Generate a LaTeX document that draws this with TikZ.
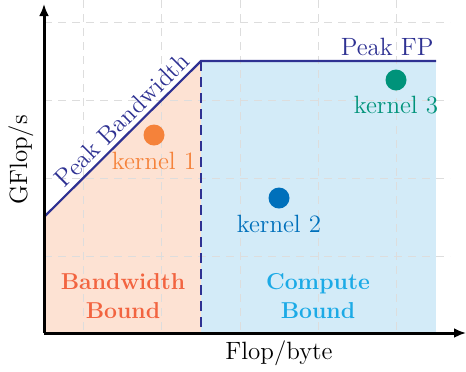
\documentclass[tikz,border=0pt]{standalone}
\usetikzlibrary{arrows.meta}
\definecolor{bwfill}{HTML}{FDE2D3}
\definecolor{cpfill}{HTML}{D3EBF8}
\definecolor{roof}{HTML}{2E3192}
\definecolor{kone}{HTML}{F5823A}
\definecolor{ktwo}{HTML}{0070BB}
\definecolor{kthree}{HTML}{00937A}
\definecolor{bwtext}{HTML}{F26440}
\definecolor{cptext}{HTML}{1CAAE6}
\definecolor{gridc}{HTML}{DDDDDD}
\tikzset{
  dot/.style={circle, inner sep=0pt, minimum size=10.5pt},
  klabel/.style={font=\fontsize{12.5}{14}\selectfont, inner sep=1pt},
  region/.style={font=\fontsize{11.5}{14.5}\selectfont\bfseries, align=center},
  axlabel/.style={font=\fontsize{12.5}{14}\selectfont},
  gridline/.style={gridc, dashed, dash pattern=on 4pt off 3pt, line width=0.5pt},
  axis/.style={line width=1.5pt, -{Latex[length=6pt,width=5pt]}},
  roofline/.style={roof, line width=1.1pt},
}
\begin{document}
\begin{tikzpicture}[x=0.5pt,y=-0.5pt]
\useasboundingbox (0,0) rectangle (466,371);
% regions
\fill[bwfill] (44,333) -- (44,217) -- (201,61) -- (201,333) -- cycle;
\fill[cpfill] (201,61) rectangle (436,333);
% grid
\foreach \x in {83,161,240,318,396}
  \draw[gridline] (\x,0) -- (\x,333);
\foreach \y in {22,100,178,256}
  \draw[gridline] (44,\y) -- (450,\y);
% roofline
\coordinate (bwstart) at (44,217);
\coordinate (ridge) at (201,61);
\coordinate (fpend) at (436,61);
\coordinate (ridgefoot) at (201,333);
\draw[roofline] (bwstart) -- (ridge) -- (fpend);
\draw[roof, line width=1.1pt, dash pattern=on 5pt off 3pt] (ridge) -- (ridgefoot);
\path (bwstart) -- (ridge) node[klabel, roof, sloped, above, inner sep=2.5pt, pos=0.56] (pbw) {Peak Bandwidth};
% axes
\coordinate (origin) at (44,333);
\coordinate (ytip) at (44,4);
\coordinate (xtip) at (466,333);
\draw[axis] (origin) -- (ytip);
\draw[axis] (origin) -- (xtip);
% labels
\node[axlabel, rotate=90] (ylab) at (21,160) {GFlop/s};
\node[axlabel] (xlab) at (279,353) {Flop/byte};
\node[klabel, roof, anchor=south east] (pfp) at (436,58) {Peak FP};
% kernels
\node[dot, fill=kone] (k1) at (154,135) {};
\node[klabel, kone] (k1l) at (154,161) {kernel 1};
\node[dot, fill=ktwo] (k2) at (279,198) {};
\node[klabel, ktwo] (k2l) at (279,224) {kernel 2};
\node[dot, fill=kthree] (k3) at (396,80) {};
\node[klabel, kthree] (k3l) at (396,105) {kernel 3};
% regions text
\node[region, bwtext] (bwb) at (123,296) {Bandwidth\\Bound};
\node[region, cptext] (cpb) at (318,296) {Compute\\Bound};
\end{tikzpicture}
\end{document}
